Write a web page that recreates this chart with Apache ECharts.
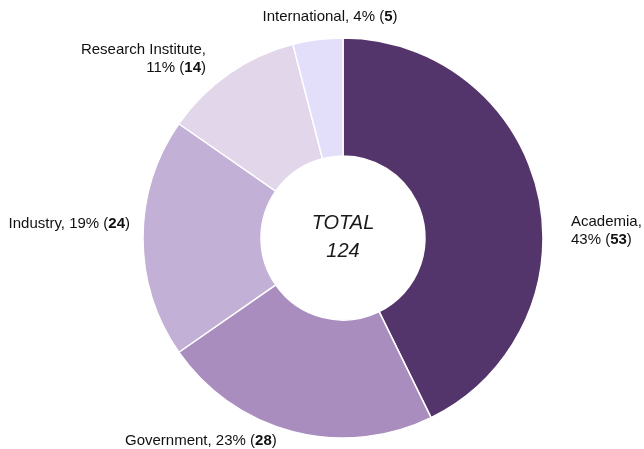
<!DOCTYPE html>
<html>
<head>
<meta charset="utf-8">
<script src="https://cdn.jsdelivr.net/npm/echarts@6/dist/echarts.min.js"></script>
<style>
  html, body { margin: 0; padding: 0; background: #fff; }
  #chart { width: 644px; height: 449px; }
</style>
</head>
<body>
<div id="chart"></div>
<script>
// Affiliation of participants
const categories = ['Academia', 'Government', 'Industry', 'Research Institute', 'International'];
const counts = [53, 28, 24, 14, 5];
const colors = ['#54356b', '#a98dbe', '#c3b0d6', '#e1d6ea', '#e3dffb'];
const total = counts.reduce((a, b) => a + b, 0);

// Where each slice's label sits, and whether the name goes on its own line
const labelSpots = [
  { x: 571, y: 231, align: 'left',   wrap: true },
  { x: 125, y: 441, align: 'left',   wrap: false },
  { x: 130, y: 224, align: 'right',  wrap: false },
  { x: 206, y: 59,  align: 'right',  wrap: true },
  { x: 330, y: 17,  align: 'center', wrap: false }
];

const chart = echarts.init(document.getElementById('chart'), null, { renderer: 'canvas' });

chart.setOption({
  animation: false,
  backgroundColor: '#ffffff',
  textStyle: { fontFamily: 'Liberation Sans, Arial, Helvetica, sans-serif' },
  graphic: [{
    type: 'text',
    x: 343,
    y: 237,
    style: {
      text: 'TOTAL\n' + total,
      x: 0, y: 0,
      align: 'center',
      verticalAlign: 'middle',
      font: 'italic 20px "Liberation Sans", Arial, sans-serif',
      lineHeight: 28,
      fill: '#1a1a1a'
    }
  }],
  series: [{
    type: 'pie',
    center: [343, 238],
    radius: [82, 200],
    startAngle: 90,
    clockwise: true,
    avoidLabelOverlap: false,
    data: categories.map((name, i) => ({
      name: name,
      value: counts[i],
      itemStyle: { color: colors[i] }
    })),
    itemStyle: { borderColor: '#ffffff', borderWidth: 1.5 },
    emphasis: { disabled: true },
    label: {
      show: true,
      position: 'outside',
      color: '#111',
      fontSize: 15,
      lineHeight: 18,
      formatter: function (p) {
        const pct = Math.round(p.value / total * 100);
        const sep = labelSpots[p.dataIndex].wrap ? '\n' : ' ';
        return '{n|' + p.name + ',' + sep + pct + '% (}{b|' + p.value + '}{n|)}';
      },
      rich: {
        n: { fontSize: 15, color: '#111', lineHeight: 18 },
        b: { fontSize: 15, color: '#111', fontWeight: 'bold', lineHeight: 18 }
      }
    },
    labelLine: { show: false },
    labelLayout: function (params) {
      const s = labelSpots[params.dataIndex];
      return { x: s.x, y: s.y, align: s.align, verticalAlign: 'middle' };
    }
  }]
});
</script>
</body>
</html>
